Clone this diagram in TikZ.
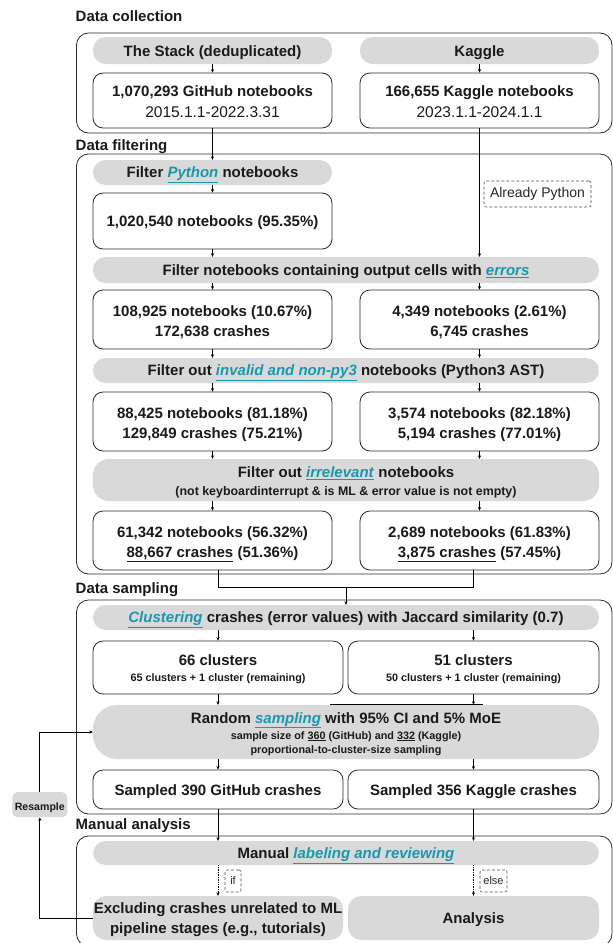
\documentclass[tikz,border=0pt]{standalone}
\usepackage{fontspec}
\setmainfont{Liberation Sans}
\usetikzlibrary{arrows.meta,calc}
\definecolor{pillgray}{HTML}{D9D9D9}
\definecolor{linkteal}{RGB}{24,152,174}
\definecolor{ink}{HTML}{1A1A1A}
\definecolor{edge}{HTML}{2A2A2A}
\newcommand\hl[1]{\textcolor{linkteal}{\underline{\textit{#1}}}}
\newcommand\fbig{\fontsize{15bp}{20bp}\selectfont\bfseries}
\newcommand\fsmall{\fontsize{10.8bp}{14bp}\selectfont\bfseries}
\newcommand\fmid{\fontsize{12.4bp}{15bp}\selectfont\bfseries}
\newcommand\fdate{\fontsize{15.5bp}{17bp}\selectfont\mdseries}
\newcommand\Ts[1]{\rule{0pt}{#1}}
\newcommand\Bs[1]{\rule[-#1]{0pt}{#1}}
\tikzset{
  struts/.style 2 args={execute at begin node={\rule{0pt}{#1}}, execute at end node={\rule[-#2]{0pt}{#2}}},
  multi/.style={struts={0pt}{0pt}},
  sec/.style={draw=edge, line width=0.8bp, rounded corners=12bp},
  lbl/.style={anchor=west, inner sep=0pt, font=\fbig, text=ink},
  pill/.style={fill=pillgray, rounded corners=12.5bp, inner sep=0pt, align=center, font=\fbig, text=ink, struts={15.7bp}{4bp}},
  box/.style={draw=edge, fill=white, line width=0.8bp, rounded corners=10bp, inner sep=0pt, align=center, font=\fbig, text=ink, struts={15.7bp}{4bp}},
  note/.style={draw=black!70, densely dashed, line width=0.6bp, rounded corners=2bp, inner sep=0pt, text=black!85},
  arr/.style={-{Stealth[length=3.5bp,width=3.2bp]}, line width=0.7bp, draw=black},
  dotarr/.style={arr, densely dotted},
  wl/.style={minimum width=239bp},
  wr/.style={minimum width=239bp},
  wf/.style={minimum width=506bp},
  wa/.style={minimum width=250bp},
  wb/.style={minimum width=251bp},
}
\begin{document}
\begin{tikzpicture}[x=1bp,y=-1bp]
\useasboundingbox (0,0) rectangle (613,943);

% ---------------- section frames and titles
\draw[sec] (76.5,33) rectangle (612,133);
\draw[sec] (76.5,154) rectangle (612,574);
\draw[sec] (76.5,600) rectangle (612,814);
\draw[sec] (76.5,836) rectangle (612,946);
\node[lbl] (t1) at (75.5,16) {Data collection};
\node[lbl] (t2) at (75.5,146.5) {Data filtering};
\node[lbl] (t3) at (75.5,590) {Data sampling};
\node[lbl] (t4) at (75.5,826) {Manual analysis};

% ---------------- Data collection
\node[pill, wl, minimum height=27bp] (stack) at (212.5,50.5) {The Stack (deduplicated)};
\node[pill, wr, minimum height=27bp] (ksrc) at (479.5,50.5) {Kaggle};
\node[box, multi, wl, minimum height=55bp, font=\fontsize{15bp}{20.75bp}\selectfont\bfseries] (gh) at (212.5,100.5)
  {\Ts{16.45bp}1,070,293 GitHub notebooks\\{\fdate 2015.1.1-2022.3.31}\Bs{4bp}};
\node[box, multi, wr, minimum height=55bp, font=\fontsize{15bp}{20.75bp}\selectfont\bfseries] (kg) at (479.5,100.5)
  {\Ts{16.45bp}166,655 Kaggle notebooks\\{\fdate 2023.1.1-2024.1.1}\Bs{4bp}};

% ---------------- Data filtering
\node[pill, wl, minimum height=25bp] (fpy) at (212.5,172.5) {Filter \hl{Python} notebooks};
\node[box, wl, minimum height=56bp] (nb1) at (212.5,221) {1,020,540 notebooks (95.35\%)};
\node[note, minimum width=107bp, minimum height=26bp, font=\fontsize{14bp}{16bp}\selectfont] (already) at (537.5,194) {Already Python};
\node[pill, wf, minimum height=26bp] (ferr) at (346,270) {Filter notebooks containing output cells with \hl{errors}};
\node[box, multi, wl, minimum height=59bp] (e1) at (212.5,319.5) {\Ts{17.7bp}108,925 notebooks (10.67\%)\\172,638 crashes\Bs{4bp}};
\node[box, multi, wr, minimum height=59bp] (e2) at (479.5,319.5) {\Ts{17.7bp}4,349 notebooks (2.61\%)\\6,745 crashes\Bs{4bp}};
\node[pill, wf, minimum height=25bp] (finv) at (346,370.5) {Filter out \hl{invalid and non-py3} notebooks (Python3 AST)};
\node[box, multi, wl, minimum height=59bp] (v1) at (212.5,421.5) {\Ts{17.7bp}88,425 notebooks (81.18\%)\\129,849 crashes (75.21\%)\Bs{4bp}};
\node[box, multi, wr, minimum height=59bp] (v2) at (479.5,421.5) {\Ts{17.7bp}3,574 notebooks (82.18\%)\\5,194 crashes (77.01\%)\Bs{4bp}};
\node[pill, multi, wf, minimum height=42bp, rounded corners=16bp, font=\fontsize{15bp}{17.5bp}\selectfont\bfseries] (firr) at (346,480)
  {\Ts{16.8bp}Filter out \hl{irrelevant} notebooks\\{\fmid (not keyboardinterrupt \& is ML \& error value is not empty)}\Bs{4bp}};
\node[box, multi, wl, minimum height=59bp] (r1) at (212.5,540.5) {\Ts{17.7bp}61,342 notebooks (56.32\%)\\\underline{88,667 crashes} (51.36\%)\Bs{4bp}};
\node[box, multi, wr, minimum height=59bp] (r2) at (479.5,540.5) {\Ts{17.7bp}2,689 notebooks (61.83\%)\\\underline{3,875 crashes} (57.45\%)\Bs{4bp}};

% ---------------- Data sampling
\node[pill, wf, minimum height=25bp] (clu) at (346,617.5) {\hl{Clustering} crashes (error values) with Jaccard similarity (0.7)};
\node[box, multi, wa, minimum height=53bp, font=\fontsize{15bp}{16.2bp}\selectfont\bfseries] (c1) at (218,667.5)
  {\Ts{15.9bp}66 clusters\\{\fsmall 65 clusters + 1 cluster (remaining)}\Bs{4bp}};
\node[box, multi, wb, minimum height=53bp, font=\fontsize{15bp}{16.2bp}\selectfont\bfseries] (c2) at (473.5,667.5)
  {\Ts{15.9bp}51 clusters\\{\fsmall 50 clusters + 1 cluster (remaining)}\Bs{4bp}};
\node[pill, multi, wf, minimum height=54bp, rounded corners=24bp, font=\fontsize{15bp}{16.1bp}\selectfont\bfseries] (samp) at (346,732)
  {\Ts{16.2bp}Random \hl{sampling} with 95\% CI and 5\% MoE\\{\fsmall sample size of \underline{360} (GitHub) and \underline{332} (Kaggle)}\\[-2.1bp]{\fsmall proportional-to-cluster-size sampling}\Bs{4bp}};
\node[box, wa, minimum height=39bp] (s1) at (218,789.5) {Sampled 390 GitHub crashes};
\node[box, wb, minimum height=39bp] (s2) at (473.5,789.5) {Sampled 356 Kaggle crashes};

% ---------------- Manual analysis
\node[pill, wf, minimum height=24bp] (man) at (346,853) {Manual \hl{labeling and reviewing}};
\node[pill, multi, wa, minimum height=44bp, rounded corners=13bp] (excl) at (218,918) {\Ts{15.3bp}Excluding crashes unrelated to ML\\pipeline stages (e.g., tutorials)\Bs{4bp}};
\node[pill, wb, minimum height=44bp, rounded corners=13bp] (ana) at (473.5,918) {Analysis};
\node[note, minimum width=16bp, minimum height=22bp, font=\fontsize{11bp}{13bp}\selectfont] (lif) at (233,881) {if};
\node[note, minimum width=27bp, minimum height=22bp, font=\fontsize{11bp}{13bp}\selectfont] (lelse) at (493.5,881) {else};
\node[pill, minimum width=55bp, minimum height=25bp, rounded corners=5bp, font=\fontsize{10.6bp}{12bp}\selectfont\bfseries, struts={11.6bp}{3bp}] (resample) at (39.8,804.7) {Resample};

% ---------------- connectors: collection and filtering
\draw[arr] (stack) -- (gh);
\draw[arr] (ksrc) -- (kg);
\draw[arr] (gh) -- (fpy);
\draw[arr] (fpy) -- (nb1);
\draw[arr] (nb1.south) -- (nb1.south |- ferr.north);
\draw[arr] (kg.south) -- (kg.south |- ferr.north);
\draw[arr] (e1.north |- ferr.south) -- (e1.north);
\draw[arr] (e2.north |- ferr.south) -- (e2.north);
\draw[arr] (e1.south) -- (e1.south |- finv.north);
\draw[arr] (e2.south) -- (e2.south |- finv.north);
\draw[arr] (v1.north |- finv.south) -- (v1.north);
\draw[arr] (v2.north |- finv.south) -- (v2.north);
\draw[arr] (v1.south) -- (v1.south |- firr.north);
\draw[arr] (v2.south) -- (v2.south |- firr.north);
\draw[arr] (r1.north |- firr.south) -- (r1.north);
\draw[arr] (r2.north |- firr.south) -- (r2.north);

% ---------------- merge into sampling
\coordinate (mg) at (346,587.3);
\draw[line width=0.7bp] (c1.north |- r1.south) -- (c1.north |- mg) -- (c2.north |- mg) -- (c2.north |- r2.south);
\draw[arr] (mg) -- (clu.north);

% ---------------- sampling
\draw[arr] (c1.north |- clu.south) -- (c1.north);
\draw[arr] (c2.north |- clu.south) -- (c2.north);
\draw[line width=0.8bp] ($(samp.north)+(-16,0)$) -- ($(samp.north)+(137,0)$);
\draw[arr] (c1.south) -- (c1.south |- samp.north);
\draw[arr] (c2.south) -- (c2.south |- samp.north);
\draw[arr] (s1.north |- samp.south) -- (s1.north);
\draw[arr] (s2.north |- samp.south) -- (s2.north);

% ---------------- manual analysis
\draw[arr] (s1.south) -- (s1.south |- man.north);
\draw[arr] (s2.south) -- (s2.south |- man.north);
\draw[dotarr] (excl.north |- man.south) -- (excl.north);
\draw[dotarr] (ana.north |- man.south) -- (ana.north);

% ---------------- resample loop
\draw[arr] (excl.west) -- (excl.west -| resample.south) -- (resample.south);
\draw[arr] (resample.north) |- (samp.west);
\end{tikzpicture}
\end{document}
